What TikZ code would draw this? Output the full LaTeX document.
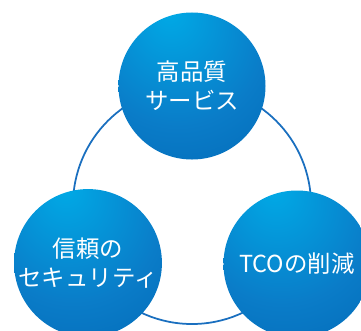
\documentclass[tikz,border=0pt]{standalone}
\usepackage{fontspec}
\newfontfamily\jpfont{Noto Sans CJK JP}
\usepackage{tikz}
\usetikzlibrary{shapes, positioning, calc}

\definecolor{spherelight}{HTML}{00AAE6}
\definecolor{spheremid}{HTML}{0A7CC8}
\definecolor{spheredark}{HTML}{0062B0}
\definecolor{ringblue}{HTML}{1A6FBF}
\pgfdeclareradialshading{sphere}{\pgfpoint{-8bp}{26bp}}{%
  color(0bp)=(spherelight); color(30bp)=(spheremid);
  color(58bp)=(spheredark); color(80bp)=(spheredark)}

\tikzset{
  ball/.style={circle, minimum size=4.41cm, inner sep=0pt, shading=sphere,
    text=white, align=center, font=\jpfont\fontsize{20}{24.7}\selectfont},
  ring/.style={draw=ringblue, line width=1.5pt}
}

\begin{document}
\begin{tikzpicture}[x=0.03cm, y=-0.03cm]
				\useasboundingbox (0,0) rectangle (361,330);
				\coordinate (hub) at (192,205);
				\draw[ring] (hub) circle[radius=3.57cm];
				\node[ball] (quality) at (192,86) {高品質\\サービス};
				\node[ball] (security) at (88,263) {信頼の\\セキュリティ};
				\node[ball] (cost) at (297,264) {TCOの削減};
			\end{tikzpicture}
\end{document}
